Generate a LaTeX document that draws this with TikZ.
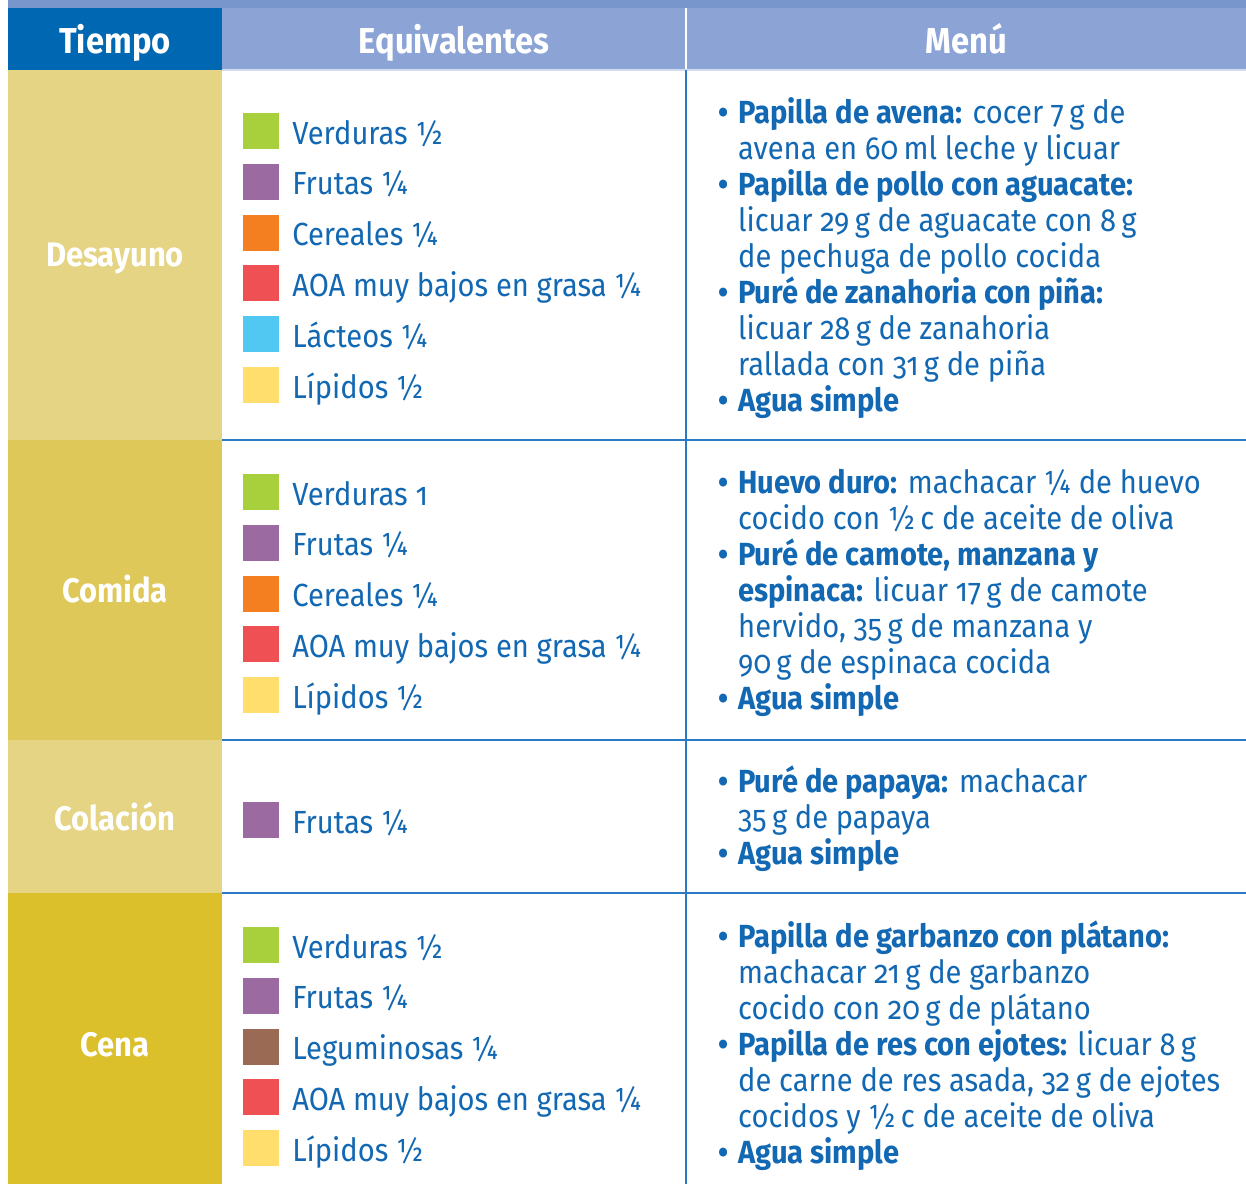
\documentclass[tikz,border=0pt]{standalone}
\usepackage{fontspec}
\setmainfont{Fira Sans}[Numbers=OldStyle, FakeStretch=0.91]
\usetikzlibrary{positioning,calc}

\definecolor{hdrdark}{HTML}{0068B3}
\definecolor{hdrlight}{HTML}{8BA3D5}
\definecolor{topband}{HTML}{7896CB}
\definecolor{txtblue}{HTML}{1268B2}
\definecolor{rowpale}{HTML}{E5D484}
\definecolor{rowmid}{HTML}{DFC85A}
\definecolor{rowdeep}{HTML}{DBBF2B}
\definecolor{rulecol}{HTML}{2A7BC4}
\definecolor{verd}{HTML}{A8CF3C}
\definecolor{frut}{HTML}{9B6AA0}
\definecolor{cere}{HTML}{F47F20}
\definecolor{aoa}{HTML}{EF5053}
\definecolor{lact}{HTML}{50C8F2}
\definecolor{lipi}{HTML}{FFDE6E}
\definecolor{legu}{HTML}{9B6A55}

\newcommand{\bul}{\llap{\textbf{\textbullet}\hspace{10pt}}}

\begin{document}
\begin{tikzpicture}[
	x=1pt, y=-1pt,
	hdr/.style={
		anchor=base,
		inner sep=0pt,
		text=white,
		font=\fontsize{36}{40}\selectfont\bfseries
	},
	rowname/.style={
		anchor=base,
		inner sep=0pt,
		text=white,
		font=\fontsize{34}{36}\selectfont\bfseries
	},
	swatch/.style={
		minimum size=36pt,
		inner sep=0pt
	},
	equiv/.style={
		anchor=base west,
		inner sep=0pt,
		text=txtblue,
		font=\fontsize{32}{36}\selectfont
	},
	mline/.style={
		anchor=base west,
		inner sep=0pt,
		text=txtblue,
		font=\fontsize{32}{36}\selectfont
	},
	gridline/.style={
		draw=rulecol,
		line width=1.5pt
	},
	]
	\useasboundingbox (0,0) rectangle (1246,1184);
	\fill[white] (0,0) rectangle (1246,1184);

	% header
	\fill[topband] (8,0) rectangle (1246,8);
	\fill[hdrdark] (8,8) rectangle (222,70);
	\fill[hdrlight] (222,8) rectangle (1246,70);
	\draw[white, line width=1.5pt] (686,8) -- (686,70);
	\draw[white!60!hdrlight, line width=1.5pt] (222,70) -- (1246,70);
	\node[hdr] (tiempo) at (115,53) {Tiempo};
	\node[hdr] (equiv) at (454,53) {Equivalentes};
	\node[hdr] (menu) at (966,53) {Menú};

	% left column
	\fill[rowpale] (8,70) rectangle (222,440);
	\fill[rowmid] (8,440) rectangle (222,740);
	\fill[rowpale] (8,740) rectangle (222,893);
	\fill[rowdeep] (8,893) rectangle (222,1184);
	\node[rowname] (desayuno) at (115,266) {Desayuno};
	\node[rowname] (comida) at (115,602) {Comida};
	\node[rowname] (colacion) at (115,830) {Colación};
	\node[rowname] (cena) at (115,1056) {Cena};

	% rules
	\draw[gridline] (222,440) -- (1246,440);
	\draw[gridline] (222,740) -- (1246,740);
	\draw[gridline] (222,893) -- (1246,893);
	\draw[gridline] (686,70) -- (686,1184);

	% equivalentes
	\foreach \c/\t [count=\i] in {verd/{Verduras ½}, frut/{Frutas ¼}, cere/{Cereales ¼}, aoa/{AOA muy bajos en grasa ¼}, lact/{Lácteos ¼}, lipi/{Lípidos ½}} {
		\node[swatch, fill=\c] (ds\i) at (261,{131+50.8*(\i-1)}) {};
		\node[equiv] (dt\i) at ($(ds\i.east)+(13,13)$) {\t};
	}
	\foreach \c/\t [count=\i] in {verd/{Verduras 1}, frut/{Frutas ¼}, cere/{Cereales ¼}, aoa/{AOA muy bajos en grasa ¼}, lipi/{Lípidos ½}} {
		\node[swatch, fill=\c] (cs\i) at (261,{492+50.8*(\i-1)}) {};
		\node[equiv] (ct\i) at ($(cs\i.east)+(13,13)$) {\t};
	}
	\node[swatch, fill=frut] (ks1) at (261,820) {};
	\node[equiv] (kt1) at ($(ks1.east)+(13,13)$) {Frutas ¼};
	\foreach \c/\t [count=\i] in {verd/{Verduras ½}, frut/{Frutas ¼}, legu/{Leguminosas ¼}, aoa/{AOA muy bajos en grasa ¼}, lipi/{Lípidos ½}} {
		\node[swatch, fill=\c] (ns\i) at (261,{945+50.8*(\i-1)}) {};
		\node[equiv] (nt\i) at ($(ns\i.east)+(13,13)$) {\t};
	}

	% menu
	\foreach \ln [count=\i] in {
		{\bul\textbf{Papilla de avena:} cocer 7\,g de},
		{avena en 60\,ml leche y licuar},
		{\bul\textbf{Papilla de pollo con aguacate:}},
		{licuar 29\,g de aguacate con 8\,g},
		{de pechuga de pollo cocida},
		{\bul\textbf{Puré de zanahoria con piña:}},
		{licuar 28\,g de zanahoria},
		{rallada con 31\,g de piña},
		{\bul\textbf{Agua simple}}} {
		\node[mline] (dm\i) at (738,{123+36*(\i-1)}) {\ln};
	}
	\foreach \ln [count=\i] in {
		{\bul\textbf{Huevo duro:} machacar ¼ de huevo},
		{cocido con ½\,c de aceite de oliva},
		{\bul\textbf{Puré de camote, manzana y}},
		{\textbf{espinaca:} licuar 17\,g de camote},
		{hervido, 35\,g de manzana y},
		{90\,g de espinaca cocida},
		{\bul\textbf{Agua simple}}} {
		\node[mline] (cm\i) at (738,{493+36*(\i-1)}) {\ln};
	}
	\foreach \ln [count=\i] in {
		{\bul\textbf{Puré de papaya:} machacar},
		{35\,g de papaya},
		{\bul\textbf{Agua simple}}} {
		\node[mline] (km\i) at (738,{792+36*(\i-1)}) {\ln};
	}
	\foreach \ln [count=\i] in {
		{\bul\textbf{Papilla de garbanzo con plátano:}},
		{machacar 21\,g de garbanzo},
		{cocido con 20\,g de plátano},
		{\bul\textbf{Papilla de res con ejotes:} licuar 8\,g},
		{de carne de res asada, 32\,g de ejotes},
		{cocidos y ½\,c de aceite de oliva},
		{\bul\textbf{Agua simple}}} {
		\node[mline] (nm\i) at (738,{947+36*(\i-1)}) {\ln};
	}
\end{tikzpicture}
\end{document}
